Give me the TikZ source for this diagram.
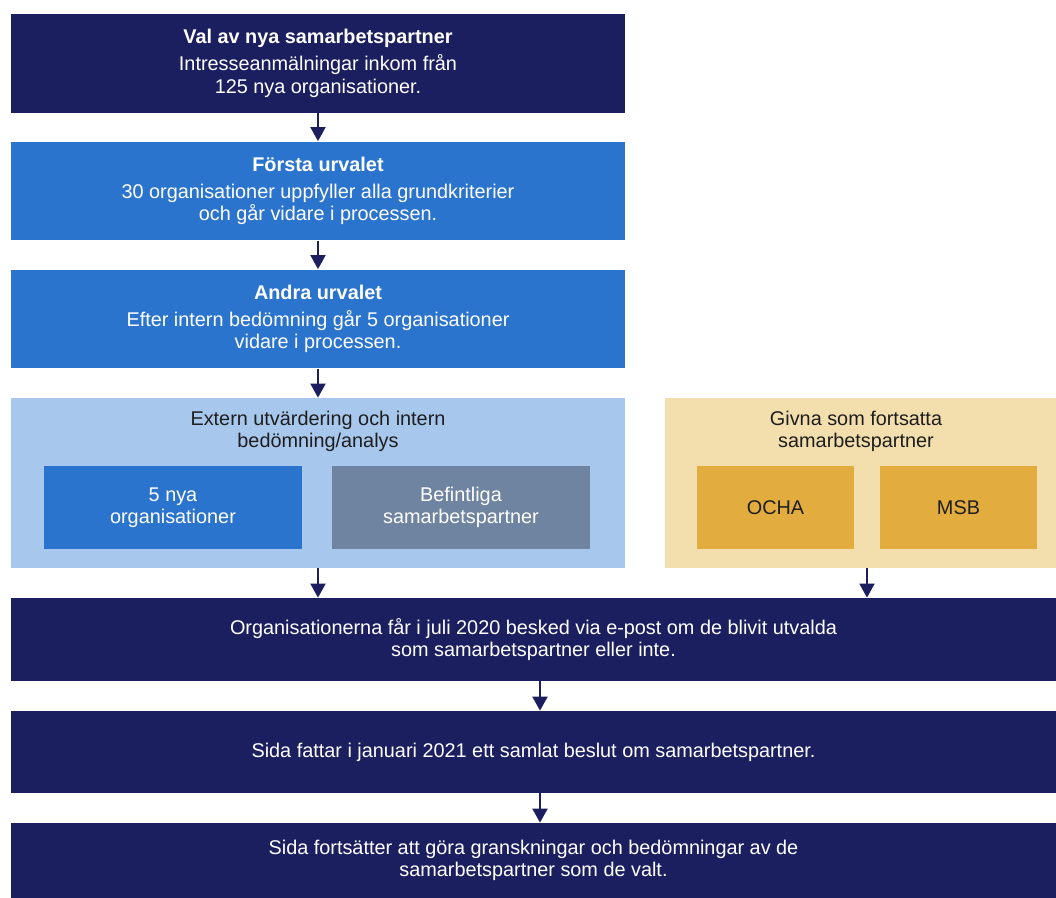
\documentclass[tikz,border=0pt]{standalone}
\usepackage{fontspec}
\setmainfont{Liberation Sans}
\usetikzlibrary{arrows.meta}
\definecolor{navy}{HTML}{1B1F5F}
\definecolor{midblue}{HTML}{2B74CD}
\definecolor{lightblue}{HTML}{A7C7EC}
\definecolor{greyblue}{HTML}{6E84A0}
\definecolor{cream}{HTML}{F3DFAE}
\definecolor{gold}{HTML}{E2AC3F}
\definecolor{darktext}{HTML}{1E1E1E}
\begin{document}
\begin{tikzpicture}[x=0.02cm,y=-0.02cm,
  box/.style={inner sep=0pt,align=center,font=\fontsize{11.3}{12.8}\selectfont},
  stage/.style={box,text=white,minimum width=12.28cm,minimum height=1.98cm},
  wide/.style={box,text=white,fill=navy,minimum width=20.9cm},
  inner/.style={box,minimum width=5.16cm,minimum height=1.66cm},
  >={Triangle[length=8pt,width=8.5pt]}]
\useasboundingbox (0,0) rectangle (1056,898);
% steg
\node[stage,fill=navy](val) at(318,63.5)
  {\textbf{Val av nya samarbetspartner}\\[2.5pt]Intresseanmälningar inkom från\\125 nya organisationer.};
\node[stage,fill=midblue](forsta) at(318,191)
  {\textbf{Första urvalet}\\[2.5pt]30 organisationer uppfyller alla grundkriterier\\och går vidare i processen.};
\node[stage,fill=midblue](andra) at(318,319)
  {\textbf{Andra urvalet}\\[2.5pt]Efter intern bedömning går 5 organisationer\\vidare i processen.};
% utvardering
\node[box,fill=lightblue,minimum width=12.28cm,minimum height=3.4cm](extern) at(318,483){};
\node[box,text=darktext](externtitel) at(318,431.5){Extern utvärdering och intern\\bedömning/analys};
\node[inner,fill=midblue,text=white](nya) at(173,507.5){5 nya\\organisationer};
\node[inner,fill=greyblue,text=white](befintliga) at(461,507.5){Befintliga\\samarbetspartner};
% givna
\node[box,fill=cream,minimum width=7.82cm,minimum height=3.4cm](givna) at(860.5,483){};
\node[box,text=darktext](givnatitel) at(856,431.5){Givna som fortsatta\\samarbetspartner};
\node[inner,fill=gold,text=darktext,minimum width=3.14cm](ocha) at(775.5,507.5){OCHA};
\node[inner,fill=gold,text=darktext,minimum width=3.14cm](msb) at(958.5,507.5){MSB};
% beslut
\node[wide,minimum height=1.66cm](besked) at(533.5,639.5)
  {Organisationerna får i juli 2020 besked via e-post om de blivit utvalda\\som samarbetspartner eller inte.};
\node[wide,minimum height=1.64cm](beslut) at(533.5,752)
  {Sida fattar i januari 2021 ett samlat beslut om samarbetspartner.};
\node[wide,minimum height=1.5cm](fortsatter) at(533.5,860.5)
  {Sida fortsätter att göra granskningar och bedömningar av de\\samarbetspartner som de valt.};
\coordinate(g) at(867,568);
\foreach \a/\b in {val/forsta,forsta/andra,andra/extern}
\draw[->,navy,line width=1.2pt](\a)--(\b);
\draw[->,navy,line width=1.2pt](extern.south)--(extern.south|-besked.north);
\draw[->,navy,line width=1.2pt](g)--(g|-besked.north);
\draw[->,navy,line width=1.2pt](besked.south-|540,0)--(beslut.north-|540,0);
\draw[->,navy,line width=1.2pt](beslut.south-|540,0)--(fortsatter.north-|540,0);
\end{tikzpicture}
\end{document}
